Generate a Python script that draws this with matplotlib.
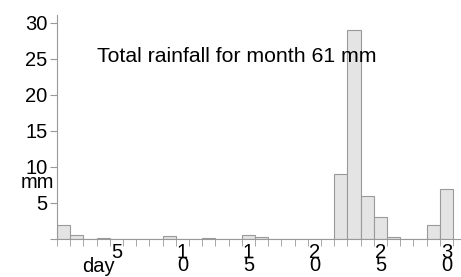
import numpy as np
import matplotlib.pyplot as plt

plt.rcParams['font.family'] = ['Liberation Sans', 'DejaVu Sans']

# daily rainfall (mm), days 1..30
days = np.arange(1, 31)
rain = [2.0, 0.5, 0.0, 0.1, 0.0, 0.0, 0.0, 0.0, 0.4, 0.0,
        0.0, 0.1, 0.0, 0.0, 0.5, 0.3, 0.0, 0.0, 0.0, 0.0,
        0.0, 9.0, 29.0, 6.0, 3.1, 0.3, 0.0, 0.0, 1.9, 7.0]
label_days = [5, 10, 15, 20, 25, 30]
y_ticks = [0, 5, 10, 15, 20, 25, 30]
title = "Total rainfall for month 61 mm"

fs = 14.5

fig = plt.figure(figsize=(4.61, 2.77), dpi=100)
ax = fig.add_axes([57 / 461, 38 / 277, 1 - 57 / 461, 224 / 277])

ax.bar(days, rain, width=1.0, color='#e4e4e4', edgecolor='#9a9a9a', linewidth=0.8)

ax.set_xlim(0.5, 31.1)
ax.set_ylim(0, 31.1)

for s in ['top', 'right']:
    ax.spines[s].set_visible(False)
ax.spines['left'].set_color('#999999')
ax.spines['bottom'].set_color('#999999')

# ticks at bar edges, labels stacked digit by digit
ax.set_xticks(np.arange(0.5, 31.5, 1.0), minor=True)
ax.set_xticks(label_days)
ax.set_xticklabels(["\n".join(str(d)) for d in label_days], fontsize=fs, linespacing=0.62)
ax.tick_params(axis='x', which='major', length=0, pad=3)
ax.tick_params(axis='x', which='minor', length=5, color='#999999')

ax.set_yticks(y_ticks)
ax.set_yticklabels([''] + [str(v) for v in y_ticks[1:]], fontsize=fs)
ax.tick_params(axis='y', length=5, color='#999999', pad=2)

ax.text(3.53, 25.3, title, fontsize=15.3, va='center', ha='left')
fig.text(37 / 461, 1 - 188 / 277, "mm", fontsize=fs, ha='center', va='baseline')
fig.text(98 / 461, 1 - 272 / 277, "day", fontsize=fs, ha='center', va='baseline')

fig.savefig("out.png", dpi=100)
